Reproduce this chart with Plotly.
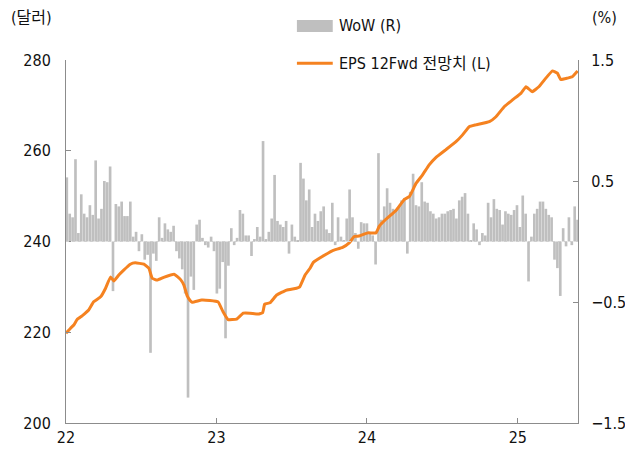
import pandas as pd
import plotly.graph_objects as go

# ---- Data ----
# Weekly WoW change of EPS 12M fwd (%), right axis
wow_start = "2022-01-03"
wow_values = [
    0.53, 0.23, 0.20, 0.68, 0.07, 0.39, 0.23, 0.20, 0.30, 0.22,
    0.67, 0.19, 0.27, 0.50, 0.49, 0.62, -0.41, 0.31, 0.29, 0.33,
    0.21, 0.21, 0.33, 0.04, 0.08, -0.08, 0.06, -0.15, -0.11, -0.92,
    -0.10, -0.16, 0.20, 0.03, 0.15, 0.10, 0.08, 0.13, -0.08, -0.14,
    -0.23, -0.43, -1.29, -0.29, -0.40,
    0.14, 0.18, 0.03, -0.03, -0.05, 0.04, -0.08, -0.43, -0.39, -0.17,
    -0.80, -0.20, 0.11, -0.03, 0.03, 0.26, 0.23, 0.05, 0.05, -0.12,
    0.02, 0.12, 0.04, 0.83, 0.02, 0.08, 0.19, 0.55, 0.17, 0.14,
    0.12, 0.17, -0.10, 0.14, 0.04, 0.01, 0.65, 0.52, 0.34, 0.43,
    0.12, 0.23, 0.17,
    0.25, 0.29, 0.10, 0.07, 0.32, -0.03, 0.20, 0.04, 0.01, 0.19,
    0.43, 0.20, 0.07, -0.06, 0.16, 0.15, 0.15, 0.07, 0.05, -0.19,
    0.73, 0.18, 0.29, 0.44, 0.32, 0.27, 0.26, 0.29, 0.34, 0.36,
    -0.10, 0.41, 0.56, 0.30, 0.29, 0.49, 0.33, 0.32, 0.25, 0.23,
    0.19, 0.20, 0.23,
    0.23, 0.25, 0.26, 0.27, 0.19, 0.34, 0.37, 0.40, 0.23, 0.01,
    0.15, 0.10, -0.03, 0.07, 0.05, 0.32, 0.20, 0.35, 0.27, 0.26,
    0.14, 0.25, 0.23, 0.22, 0.26, 0.30, 0.12, 0.38, 0.23, -0.33,
    0.04, 0.23, 0.27, 0.33, 0.33, 0.27, 0.22, 0.20, -0.15, -0.22,
    -0.45, 0.11, -0.04, 0.20, -0.03, 0.29, 0.18,
]
wow_dates = pd.date_range(wow_start, periods=len(wow_values), freq="7D")

# EPS 12M forward estimate (USD), left axis
eps_dates = [
    "2022-01-01", "2022-01-12", "2022-01-20", "2022-01-28", "2022-02-09",
    "2022-02-25", "2022-03-09", "2022-03-26", "2022-04-07", "2022-04-19",
    "2022-04-27", "2022-05-09", "2022-05-21", "2022-06-06", "2022-06-18",
    "2022-07-09", "2022-07-21", "2022-07-29", "2022-08-10", "2022-08-26",
    "2022-09-20", "2022-10-06", "2022-10-14", "2022-10-22", "2022-10-29",
    "2022-11-03", "2022-11-26", "2022-12-16", "2023-01-05", "2023-01-17",
    "2023-01-29", "2023-02-19", "2023-03-07", "2023-03-23", "2023-04-12",
    "2023-04-23", "2023-04-28", "2023-05-11", "2023-05-27", "2023-06-20",
    "2023-07-14", "2023-07-22", "2023-08-04", "2023-08-16", "2023-08-24",
    "2023-09-24", "2023-10-10", "2023-11-03", "2023-11-19", "2023-12-01",
    "2023-12-13", "2024-01-03", "2024-01-23", "2024-01-31", "2024-02-16",
    "2024-03-12", "2024-04-01", "2024-04-13", "2024-04-29", "2024-05-15",
    "2024-05-31", "2024-06-16", "2024-07-10", "2024-08-04", "2024-08-20",
    "2024-09-05", "2024-09-21", "2024-10-24", "2024-11-09", "2024-11-29",
    "2024-12-19", "2025-01-09", "2025-01-21", "2025-02-05", "2025-02-21",
    "2025-03-10", "2025-03-26", "2025-04-07", "2025-04-15", "2025-05-01",
    "2025-05-13", "2025-05-26",
]
eps_values = [
    219.8, 220.9, 221.6, 222.8, 223.6,
    224.9, 226.7, 227.8, 229.7, 232.2,
    231.3, 232.6, 233.7, 235.0, 235.3,
    235.0, 234.1, 231.9, 231.5, 232.1,
    232.8, 231.6, 230.4, 228.0, 227.0,
    226.6, 227.1, 227.0, 226.7, 224.5,
    222.8, 222.9, 224.2, 224.2, 224.0,
    224.3, 226.2, 226.5, 228.2, 229.3,
    229.7, 230.0, 232.6, 234.1, 235.4,
    237.2, 238.0, 238.7, 239.7, 241.1,
    241.2, 241.9, 241.9, 243.4, 244.9,
    246.9, 249.3, 249.9, 252.8, 254.7,
    256.9, 258.5, 260.2, 262.0, 263.5,
    265.3, 265.7, 266.4, 267.5, 269.7,
    271.2, 272.7, 274.1, 273.0, 274.1,
    276.0, 277.6, 277.1, 275.7, 276.0,
    276.3, 277.6,
]

left_ticks = [200, 220, 240, 260, 280]
right_ticks = [-1.5, -0.5, 0.5, 1.5]
x_tick_dates = ["2022-01-01", "2023-01-01", "2024-01-01", "2025-01-01"]
x_tick_labels = ["22", "23", "24", "25"]

bar_name = "WoW (R)"
line_name = "EPS 12Fwd 전망치 (L)"

# ---- Styles ----
BAR_COLOR = "#BFBFBF"
LINE_COLOR = "#F58220"
AXIS_COLOR = "#8C8C8C"
FONT = "DejaVu Sans Condensed, Liberation Sans Narrow, Arial Narrow, Liberation Sans, Noto Sans CJK KR, sans-serif"
FS = 16

fig = go.Figure()
fig.add_trace(go.Bar(
    x=wow_dates, y=wow_values, name=bar_name, yaxis="y",
    marker=dict(color=BAR_COLOR, line=dict(width=0)),
    showlegend=False,
))
fig.add_trace(go.Scatter(
    x=eps_dates, y=eps_values, name=line_name, yaxis="y2",
    mode="lines", line=dict(color=LINE_COLOR, width=3, shape="spline", smoothing=0.3),
    showlegend=False,
))

axis_common = dict(
    showline=True, linecolor=AXIS_COLOR, linewidth=1,
    ticks="inside", ticklen=5, tickcolor=AXIS_COLOR,
    showgrid=False, zeroline=False, automargin=False,
    tickfont=dict(family=FONT, size=FS, color="#111111"),
)

# page body has an 8px margin, so the figure is sized/margined to compensate
fig.update_layout(
    width=625, height=448,
    margin=dict(l=58, r=55, t=52, b=33),
    paper_bgcolor="white", plot_bgcolor="white",
    font=dict(family=FONT, size=FS, color="#111111"),
    bargap=0.08,
    showlegend=False,
    xaxis=dict(
        type="date", range=["2022-01-01", "2025-05-27"],
        tickvals=x_tick_dates, ticktext=x_tick_labels,
        **axis_common,
    ),
    yaxis=dict(
        side="right", range=[-1.5, 1.5], tickvals=right_ticks,
        tickformat=".1f", ticklabelstandoff=9,
        **axis_common,
    ),
    yaxis2=dict(
        side="left", overlaying="y", range=[200, 280], tickvals=left_ticks,
        ticklabelstandoff=11,
        **axis_common,
    ),
)

# dotted zero line for the WoW bars
fig.add_shape(type="line", xref="paper", x0=0, x1=1, yref="y", y0=0, y1=0,
              line=dict(color="#D0D0D0", width=1, dash="dot"), layer="above")

# axis unit labels
fig.add_annotation(text="(달러)", xref="paper", yref="paper", x=-0.112, y=1.116,
                   xanchor="left", yanchor="middle", showarrow=False,
                   font=dict(family=FONT, size=FS, color="#111111"))
fig.add_annotation(text="(%)", xref="paper", yref="paper", x=1.023, y=1.116,
                   xanchor="left", yanchor="middle", showarrow=False,
                   font=dict(family=FONT, size=FS, color="#111111"))

# custom legend
fig.add_shape(type="rect", xref="paper", yref="paper",
              x0=0.451, x1=0.521, y0=1.077, y1=1.110,
              fillcolor=BAR_COLOR, line=dict(width=0))
fig.add_annotation(text=bar_name, xref="paper", yref="paper", x=0.530, y=1.094,
                   xanchor="left", yanchor="middle", showarrow=False,
                   font=dict(family=FONT, size=FS, color="#111111"))
fig.add_shape(type="line", xref="paper", yref="paper",
              x0=0.451, x1=0.521, y0=0.991, y1=0.991,
              line=dict(color=LINE_COLOR, width=3))
fig.add_annotation(text=line_name, xref="paper", yref="paper", x=0.530, y=0.991,
                   xanchor="left", yanchor="middle", showarrow=False,
                   font=dict(family=FONT, size=FS, color="#111111"))

fig.write_html("out.html")
